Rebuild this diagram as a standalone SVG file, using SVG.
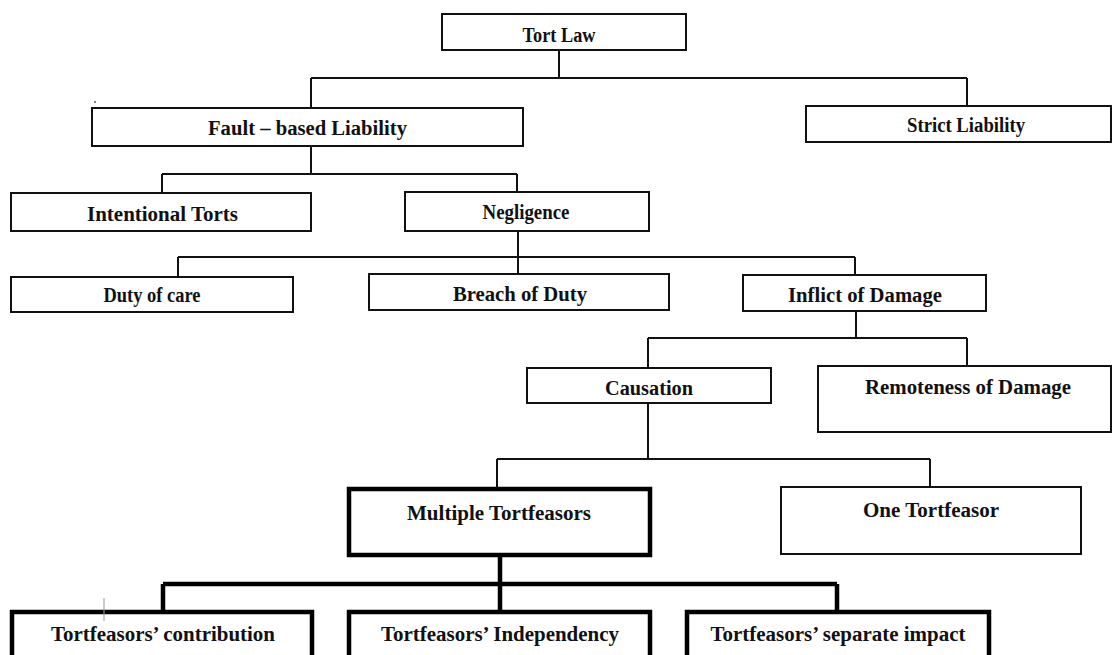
<svg xmlns="http://www.w3.org/2000/svg" width="1112" height="655" viewBox="0 0 1112 655">
<style>
.box{fill:#fff;stroke:#111;stroke-width:2}
.thick{fill:#fff;stroke:#000;stroke-width:4.5}
.lbl{font-family:"Liberation Serif","Times New Roman",serif;font-weight:bold;font-size:20px;fill:#111;text-anchor:middle}
.c{fill:none;stroke:#111;stroke-width:2}
.ct{fill:none;stroke:#000;stroke-width:4.5}
</style>
<rect width="1112" height="655" fill="#fff"/>
<g id="connectors">
<path class="c" d="M559,50 V78 M311,78 H967 M311,78 V108 M967,78 V106"/>
<path class="c" d="M311,146 V174 M162,174 H517 M162,174 V193 M517,174 V192"/>
<path class="c" d="M518,231 V274 M178,257 H855 M178,257 V277 M855,257 V275"/>
<path class="c" d="M856,311 V338 M648,338 H967 M648,338 V368 M967,338 V366"/>
<path class="c" d="M648,403 V459 M497,459 H930 M497,459 V488 M930,459 V487"/>
<path class="ct" d="M500,555 V584 M163,584 H837 M163,584 V612 M500,584 V612 M837,584 V612"/>
</g>
<g id="tort-law"><rect class="box" x="442" y="14" width="244" height="36"/><text class="lbl" x="559" y="41.5" textLength="73" lengthAdjust="spacingAndGlyphs">Tort Law</text></g>
<g id="fault-based"><rect class="box" x="92" y="108" width="431" height="38"/><text class="lbl" x="307.5" y="135" textLength="199" lengthAdjust="spacingAndGlyphs">Fault – based Liability</text></g>
<g id="strict"><rect class="box" x="806" y="106" width="305" height="36"/><text class="lbl" x="966" y="132" textLength="118" lengthAdjust="spacingAndGlyphs">Strict Liability</text></g>
<g id="intentional"><rect class="box" x="11" y="193" width="300" height="38"/><text class="lbl" x="162.5" y="221" textLength="151" lengthAdjust="spacingAndGlyphs">Intentional Torts</text></g>
<g id="negligence"><rect class="box" x="405" y="192" width="244" height="39"/><text class="lbl" x="526" y="219" textLength="87" lengthAdjust="spacingAndGlyphs">Negligence</text></g>
<g id="duty"><rect class="box" x="11" y="277" width="282" height="35"/><text class="lbl" x="152" y="301.5" textLength="97" lengthAdjust="spacingAndGlyphs">Duty of care</text></g>
<g id="breach"><rect class="box" x="369" y="274" width="300" height="36"/><text class="lbl" x="520" y="301" textLength="134" lengthAdjust="spacingAndGlyphs">Breach of Duty</text></g>
<g id="inflict"><rect class="box" x="743" y="275" width="243" height="36"/><text class="lbl" x="865" y="302" textLength="154" lengthAdjust="spacingAndGlyphs">Inflict of Damage</text></g>
<g id="causation"><rect class="box" x="527" y="368" width="244" height="35"/><text class="lbl" x="649" y="395" textLength="88" lengthAdjust="spacingAndGlyphs">Causation</text></g>
<g id="remoteness"><rect class="box" x="818" y="366" width="293" height="66"/><text class="lbl" x="968" y="394" textLength="206" lengthAdjust="spacingAndGlyphs">Remoteness of Damage</text></g>
<g id="multiple"><rect class="thick" x="349" y="489" width="301" height="66"/><text class="lbl" x="499" y="520" textLength="184" lengthAdjust="spacingAndGlyphs">Multiple Tortfeasors</text></g>
<g id="one"><rect class="box" x="781" y="487" width="300" height="67"/><text class="lbl" x="931" y="517" textLength="136" lengthAdjust="spacingAndGlyphs">One Tortfeasor</text></g>
<g id="contribution"><rect class="thick" x="12" y="612" width="300" height="60"/><text class="lbl" x="163" y="641" textLength="224" lengthAdjust="spacingAndGlyphs">Tortfeasors’ contribution</text></g>
<g id="independency"><rect class="thick" x="349" y="612" width="301" height="60"/><text class="lbl" x="500" y="641" textLength="238" lengthAdjust="spacingAndGlyphs">Tortfeasors’ Independency</text></g>
<g id="separate"><rect class="thick" x="687" y="612" width="302" height="60"/><text class="lbl" x="838" y="641" textLength="255" lengthAdjust="spacingAndGlyphs">Tortfeasors’ separate impact</text></g>
<circle cx="95" cy="102" r="1" fill="#555"/>
<line x1="104" y1="598" x2="104" y2="621" stroke="#999" stroke-width="1"/>
</svg>
